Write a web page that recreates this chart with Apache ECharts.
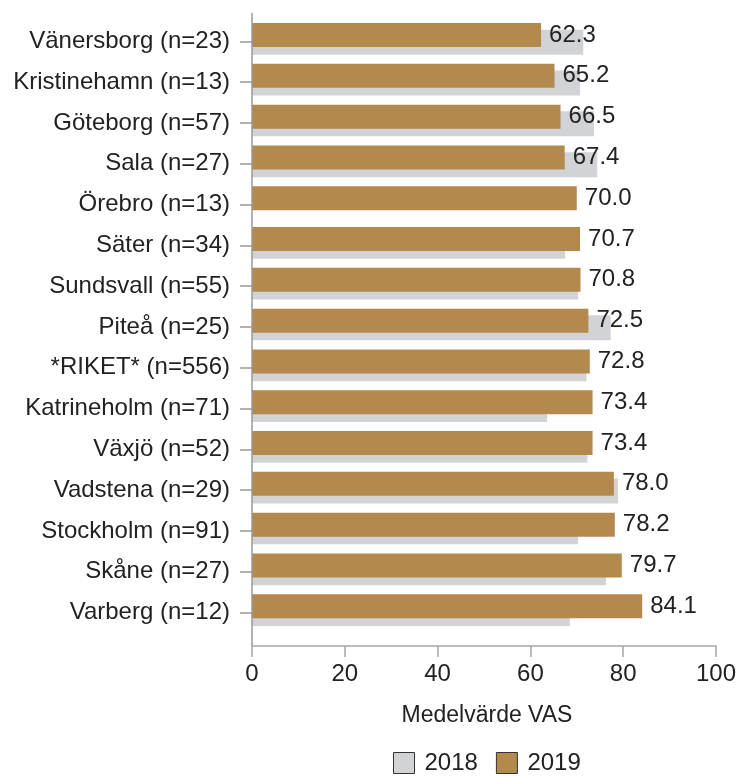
<!DOCTYPE html>
<html>
<head>
<meta charset="utf-8">
<script src="https://cdn.jsdelivr.net/npm/echarts@6/dist/echarts.min.js"></script>
<style>
  html, body { margin: 0; padding: 0; background: #fff; }
  #chart { width: 739px; height: 776px; }
</style>
</head>
<body>
<div id="chart"></div>
<script>
var categories = [
  'Vänersborg (n=23)', 'Kristinehamn (n=13)', 'Göteborg (n=57)', 'Sala (n=27)',
  'Örebro (n=13)', 'Säter (n=34)', 'Sundsvall (n=55)', 'Piteå (n=25)',
  '*RIKET* (n=556)', 'Katrineholm (n=71)', 'Växjö (n=52)', 'Vadstena (n=29)',
  'Stockholm (n=91)', 'Skåne (n=27)', 'Varberg (n=12)'
];
var values2019 = [62.3, 65.2, 66.5, 67.4, 70.0, 70.7, 70.8, 72.5, 72.8, 73.4, 73.4, 78.0, 78.2, 79.7, 84.1];
var values2018 = [71.4, 70.7, 73.7, 74.4, null, 67.5, 70.3, 77.3, 72.1, 63.6, 72.3, 78.9, 70.3, 76.3, 68.5];
var xTicks = [0, 20, 40, 60, 80, 100];

var FONT = '"Liberation Sans", Arial, sans-serif';
var chart = echarts.init(document.getElementById('chart'));
var gridLeft = 252, gridRight = 22, gridTop = 21, gridBottom = 143;

chart.setOption({
  animation: false,
  backgroundColor: '#ffffff',
  textStyle: { fontFamily: FONT },
  grid: { left: gridLeft, right: gridRight, top: gridTop, bottom: gridBottom, containLabel: false },
  legend: {
    data: ['2018', '2019'],
    top: 746,
    left: 388,
    icon: 'rect',
    itemWidth: 21,
    itemHeight: 21,
    itemGap: 18,
    textStyle: { fontSize: 24, color: '#222', fontFamily: FONT, padding: [0, 0, 0, 5] },
    itemStyle: { borderColor: '#333', borderWidth: 1 }
  },
  xAxis: {
    type: 'value',
    min: xTicks[0],
    max: xTicks[xTicks.length - 1],
    interval: 20,
    offset: 13,
    name: 'Medelvärde VAS',
    nameLocation: 'middle',
    nameGap: 58,
    nameTextStyle: { fontSize: 23, color: '#222', fontFamily: FONT, padding: [0, 0, 0, 6] },
    axisLine: { show: true, lineStyle: { color: '#a6a6a6', width: 1.5 } },
    axisTick: { show: true, length: 11, lineStyle: { color: '#a6a6a6', width: 1.5 } },
    axisLabel: { fontSize: 24, color: '#222', margin: 16, fontFamily: FONT },
    splitLine: { show: false }
  },
  yAxis: {
    type: 'category',
    data: categories,
    inverse: true,
    axisLine: { show: false },
    axisTick: { show: true, length: 12, alignWithLabel: true, lineStyle: { color: '#999', width: 1.5 } },
    axisLabel: { fontSize: 24, color: '#222', margin: 22, fontFamily: FONT }
  },
  graphic: [{
    type: 'line',
    shape: { x1: gridLeft, y1: 13, x2: gridLeft, y2: 646 },
    style: { stroke: '#999', lineWidth: 1.5 },
    z: 10
  }],
  series: [
    {
      name: '2019',
      type: 'bar',
      data: values2019,
      barWidth: 24,
      barGap: '-72%',
      itemStyle: { color: '#b3894e' },
      label: {
        show: true,
        position: 'right',
        distance: 8,
        fontSize: 24,
        color: '#222',
        fontFamily: FONT,
        formatter: function (p) { return p.value.toFixed(1); }
      },
      z: 3
    },
    {
      name: '2018',
      type: 'bar',
      data: values2018,
      barWidth: 25,
      barGap: '-72%',
      itemStyle: { color: '#d2d3d6' },
      z: 1
    },
    {
      name: 'spacer',
      type: 'bar',
      data: [],
      barWidth: 23,
      barGap: '-72%',
      silent: true,
      itemStyle: { color: 'rgba(0,0,0,0)' },
      z: 0
    }
  ]
});
</script>
</body>
</html>
